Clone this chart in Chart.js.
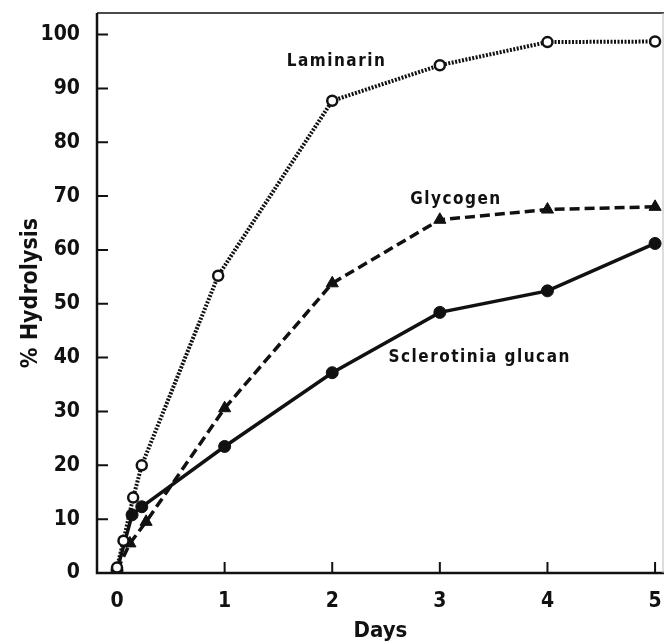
<!DOCTYPE html>
<html>
<head>
<meta charset="utf-8">
<script src="https://cdn.jsdelivr.net/npm/chart.js@4.4.1/dist/chart.umd.min.js"></script>
<style>
  html, body { margin: 0; padding: 0; background: #fff; }
  #wrap { width: 672px; height: 642px; }
</style>
</head>
<body>
<div id="wrap"><canvas id="hydroChart"></canvas></div>
<script>
// tick values
var dayTicks = [0, 1, 2, 3, 4, 5];
var pctTicks = [0, 10, 20, 30, 40, 50, 60, 70, 80, 90, 100];

// series (days, % hydrolysis)
var laminarinDays = [0, 0.06, 0.15, 0.23, 0.94, 2, 3, 4, 5];
var laminarinPct  = [1, 6, 14, 20, 55.2, 87.7, 94.3, 98.6, 98.7];
var glycogenDays  = [0, 0.12, 0.27, 1, 2, 3, 4, 5];
var glycogenPct   = [0.5, 5.5, 9.5, 30.6, 53.8, 65.6, 67.5, 68];
var glucanDays    = [0, 0.14, 0.23, 1, 2, 3, 4, 5];
var glucanPct     = [0.5, 10.8, 12.3, 23.5, 37.2, 48.4, 52.4, 61.2];

// curve labels and where they sit (data coords)
var seriesNames = ["Laminarin", "Glycogen", "Sclerotinia glucan"];
var labelDays = [2.04, 3.15, 3.37];
var labelPct  = [95, 69.3, 40];

var FONT = "'DejaVu Sans Condensed', 'Liberation Sans Narrow', 'DejaVu Sans', sans-serif";

function toPoints(xs, ys) {
    var pts = [];
    for (var i = 0; i < xs.length; i++) pts.push({x: xs[i], y: ys[i]});
    return pts;
}

function noPad(scale) {
    scale.paddingTop = 0;
    scale.paddingBottom = 0;
    scale.paddingLeft = 0;
    scale.paddingRight = 0;
}

var framePlugin = {
    id: 'frame',
    afterDraw: function(chart) {
        var ctx = chart.ctx, a = chart.chartArea;
        var xs = chart.scales.x, ys = chart.scales.y;
        ctx.save();
        ctx.strokeStyle = '#111';
        ctx.lineWidth = 2.5;
        ctx.beginPath();
        ctx.moveTo(a.left, a.top);
        ctx.lineTo(a.left, a.bottom);
        ctx.lineTo(a.right, a.bottom);
        ctx.stroke();
        ctx.lineWidth = 1.5;
        ctx.beginPath();
        ctx.moveTo(a.left, a.top);
        ctx.lineTo(a.right, a.top);
        ctx.stroke();
        ctx.strokeStyle = '#bbb';
        ctx.lineWidth = 1;
        ctx.beginPath();
        ctx.moveTo(a.right - 1, a.top);
        ctx.lineTo(a.right - 1, a.bottom);
        ctx.stroke();
        // inward ticks
        ctx.strokeStyle = '#111';
        ctx.lineWidth = 2;
        ctx.beginPath();
        pctTicks.forEach(function(v) {
            if (v === 0) return;
            var py = ys.getPixelForValue(v);
            ctx.moveTo(a.left, py);
            ctx.lineTo(a.left + 11, py);
        });
        dayTicks.forEach(function(d) {
            if (d === 0) return;
            var px = xs.getPixelForValue(d);
            ctx.moveTo(px, a.bottom);
            ctx.lineTo(px, a.bottom - 11);
        });
        ctx.stroke();
        // curve labels
        ctx.fillStyle = '#111';
        ctx.font = 'bold 17px ' + FONT;
        ctx.textAlign = 'center';
        ctx.textBaseline = 'middle';
        ctx.letterSpacing = '1.5px';
        seriesNames.forEach(function(name, i) {
            ctx.fillText(name, xs.getPixelForValue(labelDays[i]), ys.getPixelForValue(labelPct[i]));
        });
        ctx.restore();
    }
};

var ctx1 = document.getElementById("hydroChart");
var hydroChart = new Chart(ctx1, {
    type: 'scatter',
    data: {
        datasets: [{
            label: seriesNames[0],
            data: toPoints(laminarinDays, laminarinPct),
            showLine: true,
            borderColor: '#111',
            borderWidth: 4,
            borderDash: [2, 1.5],
            pointStyle: 'circle',
            pointRadius: 5,
            pointBorderWidth: 2.5,
            pointBorderColor: '#111',
            pointBackgroundColor: '#fff'
        }, {
            label: seriesNames[1],
            data: toPoints(glycogenDays, glycogenPct),
            showLine: true,
            borderColor: '#111',
            borderWidth: 3.5,
            borderDash: [10, 5],
            pointStyle: 'triangle',
            pointRadius: 7,
            pointBorderWidth: 1,
            pointBorderColor: '#111',
            pointBackgroundColor: '#111'
        }, {
            label: seriesNames[2],
            data: toPoints(glucanDays, glucanPct),
            showLine: true,
            borderColor: '#111',
            borderWidth: 3.5,
            pointStyle: 'circle',
            pointRadius: 6,
            pointBorderWidth: 1,
            pointBorderColor: '#111',
            pointBackgroundColor: '#111'
        }]
    },
    options: {
        responsive: true,
        maintainAspectRatio: false,
        animation: false,
        layout: { padding: { top: 13, right: 0, left: 0, bottom: 0 } },
        plugins: {
            legend: { display: false },
            tooltip: { enabled: false }
        },
        scales: {
            x: {
                type: 'linear',
                min: -0.186,
                max: 5.083,
                afterBuildTicks: function(scale) {
                    scale.ticks = dayTicks.map(function(v) { return {value: v}; });
                },
                afterFit: function(scale) { scale.height = 69; noPad(scale); },
                grid: { display: false, drawTicks: false },
                border: { display: false },
                ticks: {
                    padding: 16,
                    color: '#111',
                    font: { family: FONT, size: 21, weight: 'bold' }
                },
                title: {
                    display: true,
                    text: 'Days',
                    color: '#111',
                    padding: { top: -3, bottom: 0 },
                    font: { family: FONT, size: 22, weight: 'bold', lineHeight: 1 }
                }
            },
            y: {
                min: 0,
                max: 104,
                afterBuildTicks: function(scale) {
                    scale.ticks = pctTicks.map(function(v) { return {value: v}; });
                },
                afterFit: function(scale) { scale.width = 97; noPad(scale); },
                grid: { display: false, drawTicks: false },
                border: { display: false },
                ticks: {
                    padding: 17,
                    color: '#111',
                    font: { family: FONT, size: 21, weight: 'bold' }
                },
                title: {
                    display: true,
                    text: '% Hydrolysis',
                    color: '#111',
                    padding: { top: 17, bottom: 0 },
                    font: { family: FONT, size: 23, weight: 'bold', lineHeight: 1.2 }
                }
            }
        }
    },
    plugins: [framePlugin]
});
</script>
</body>
</html>
